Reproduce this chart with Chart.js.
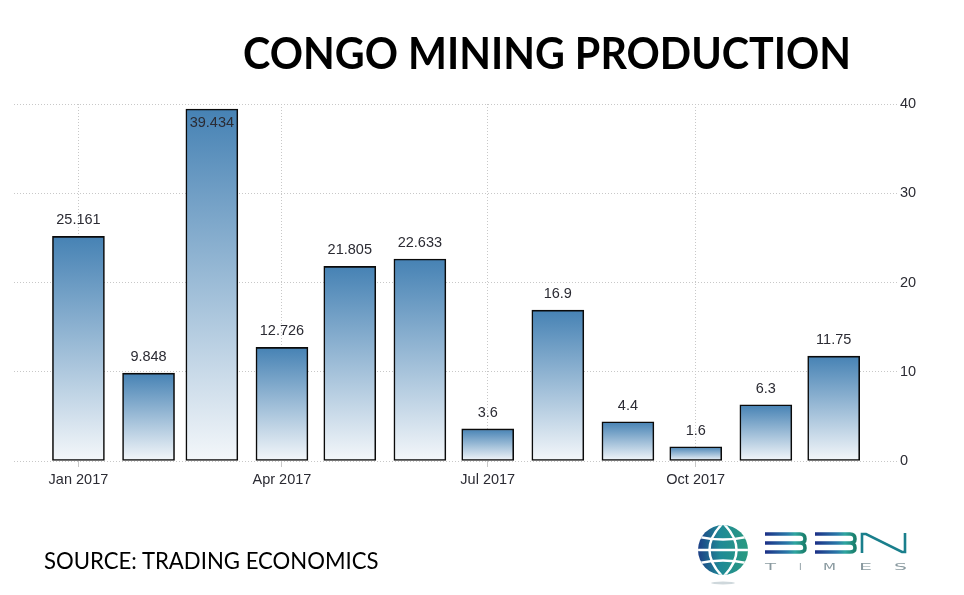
<!DOCTYPE html>
<html><head><meta charset="utf-8">
<style>
html,body{margin:0;padding:0;background:#fff;width:964px;height:595px;overflow:hidden}
#wrap{position:relative;width:964px;height:595px}
canvas{position:absolute;left:0;top:0}
.t{position:absolute;white-space:nowrap;color:#000;font-family:Lato,"Open Sans",sans-serif;transform-origin:0 50%}
#title{left:243px;top:25px;font-size:44px;font-weight:700;line-height:54px;transform:scaleX(0.937)}
#source{left:44px;top:545px;font-size:24px;line-height:30px;transform:scaleX(0.923)}
svg{position:absolute;left:680px;top:510px}
</style></head><body>
<div id="wrap">
<canvas id="c" width="964" height="595"></canvas>
<div class="t" id="title">CONGO MINING PRODUCTION</div>
<div class="t" id="source">SOURCE: TRADING ECONOMICS</div>
<svg width="240" height="80" viewBox="0 0 240 80">
 <defs>
  <linearGradient id="gl" x1="0" x2="1" y1="0" y2="0"><stop offset="0" stop-color="#1c3f86"/><stop offset="0.45" stop-color="#1f8a96"/><stop offset="1" stop-color="#2a9a80"/></linearGradient>
  <linearGradient id="gt" x1="0" x2="1" y1="0" y2="0" gradientUnits="objectBoundingBox"><stop offset="0" stop-color="#1c2f86"/><stop offset="0.55" stop-color="#2a78a8"/><stop offset="0.75" stop-color="#2ea5a0"/><stop offset="1" stop-color="#1a7f6c"/></linearGradient>
  <clipPath id="cg"><circle cx="43" cy="40" r="25"/></clipPath>
 </defs>
 <circle cx="43" cy="40" r="25" fill="url(#gl)"/>
 <g clip-path="url(#cg)" fill="none" stroke="#fff" stroke-width="2.4">
  <path d="M43 13Q16 40 43 67Q70 40 43 13Z"/>
  <path d="M15 26Q43 33 71 26M15 40H71M15 54Q43 47 71 54"/>
 </g>
 <ellipse cx="43" cy="73" rx="12" ry="1.5" fill="#cfd8dc"/>
 <g fill="none" stroke="url(#gt)" stroke-width="3.6">
  <path d="M85 24H120Q125 24 125 29Q125 33 120 33H85M85 33H120Q125 33 125 38Q125 42 120 42H85"/>
  <path d="M135 24H170Q175 24 175 29Q175 33 170 33H135M135 33H170Q175 33 175 38Q175 42 170 42H135"/>
 </g>
 <path d="M182 43V24H186L222 42H225V23" fill="none" stroke="#1a7f8c" stroke-width="2.6"/>
 <g font-family="'DejaVu Sans'" font-size="9" fill="#8a9aa0">
  <text x="85" y="60" textLength="11" lengthAdjust="spacingAndGlyphs">T</text>
  <text x="119" y="60">I</text>
  <text x="143" y="60" textLength="13" lengthAdjust="spacingAndGlyphs">M</text>
  <text x="179" y="60" textLength="13" lengthAdjust="spacingAndGlyphs">E</text>
  <text x="214" y="60" textLength="13" lengthAdjust="spacingAndGlyphs">S</text>
 </g>
</svg>
</div>
<script src="https://cdn.jsdelivr.net/npm/chart.js@4"></script>
<script>
const months = ["Jan 2017","Feb 2017","Mar 2017","Apr 2017","May 2017","Jun 2017","Jul 2017","Aug 2017","Sep 2017","Oct 2017","Nov 2017","Dec 2017"];
const dayOfYear = [0,31,59,90,120,151,181,212,243,273,304,334];
const values = [25.161,9.848,39.434,12.726,21.805,22.633,3.6,16.9,4.4,1.6,6.3,11.75];
const valueLabels = ["25.161","9.848","39.434","12.726","21.805","22.633","3.6","16.9","4.4","1.6","6.3","11.75"];
const xTickDays = [0,90,181,273];
const yTicks = [0,10,20,30,40];
const TEXT = "#2b2b33";
const FAMILY = "'Liberation Sans'";

const barLabels = {
  id:'barLabels',
  afterDatasetsDraw(chart){
    const c = chart.ctx, meta = chart.getDatasetMeta(0);
    c.save(); c.font = "14.5px " + FAMILY; c.fillStyle = TEXT;
    c.textAlign='center'; c.textBaseline='middle';
    meta.data.forEach((b,i)=>{
      const inside = b.y - 16 < chart.chartArea.top;
      c.fillText(valueLabels[i], b.x, inside ? b.y+14 : b.y-16);
    });
    c.restore();
  }
};

new Chart(document.getElementById('c'),{
  type:'bar',
  data:{datasets:[{
    data:dayOfYear.map((d,i)=>({x:d,y:values[i]})),
    barThickness:52,
    borderColor:'#0a0a0a',
    borderWidth:1.6,
    borderSkipped:false,
    backgroundColor(ctx){
      const ch = ctx.chart, ys = ch.scales.y;
      if(!ys || !ctx.parsed || ctx.parsed.y==null) return '#4682b4';
      const top = ys.getPixelForValue(ctx.parsed.y), bot = ys.getPixelForValue(0);
      if(!Number.isFinite(top) || !Number.isFinite(bot)) return '#4682b4';
      const g = ch.ctx.createLinearGradient(0,top,0,bot);
      g.addColorStop(0,'#4682b4'); g.addColorStop(1,'#f4f7fa');
      return g;
    }
  }]},
  plugins:[barLabels],
  options:{
    responsive:false,animation:false,devicePixelRatio:1,
    layout:{padding:{left:14,top:104,right:0,bottom:0}},
    plugins:{legend:{display:false},tooltip:{enabled:false},title:{display:false}},
    scales:{
      x:{type:'linear',min:-28.5,max:362,offset:false,
        afterBuildTicks(s){s.ticks=xTickDays.map(v=>({value:v}));},
        afterFit(s){s.height=134;},
        grid:{offset:false,color:'#c8c8c8',lineWidth:1,tickLength:6,tickColor:'#c8c8c8',drawTicks:true},
        border:{display:false,dash:[1,2]},
        ticks:{autoSkip:false,maxRotation:0,color:TEXT,font:{family:FAMILY,size:14.5},padding:4,
          callback(v){return months[dayOfYear.indexOf(v)];}}
      },
      y:{position:'right',min:0,max:40,
        afterBuildTicks(s){s.ticks=yTicks.map(v=>({value:v}));},
        afterFit(s){s.width=67;},
        grid:{color:'#c8c8c8',lineWidth:1,drawTicks:false},
        border:{display:false,dash:[1,2]},
        ticks:{color:TEXT,font:{family:FAMILY,size:14.5},padding:3,align:'center',crossAlign:'near'}
      }
    }
  }
});
</script>
</body></html>
